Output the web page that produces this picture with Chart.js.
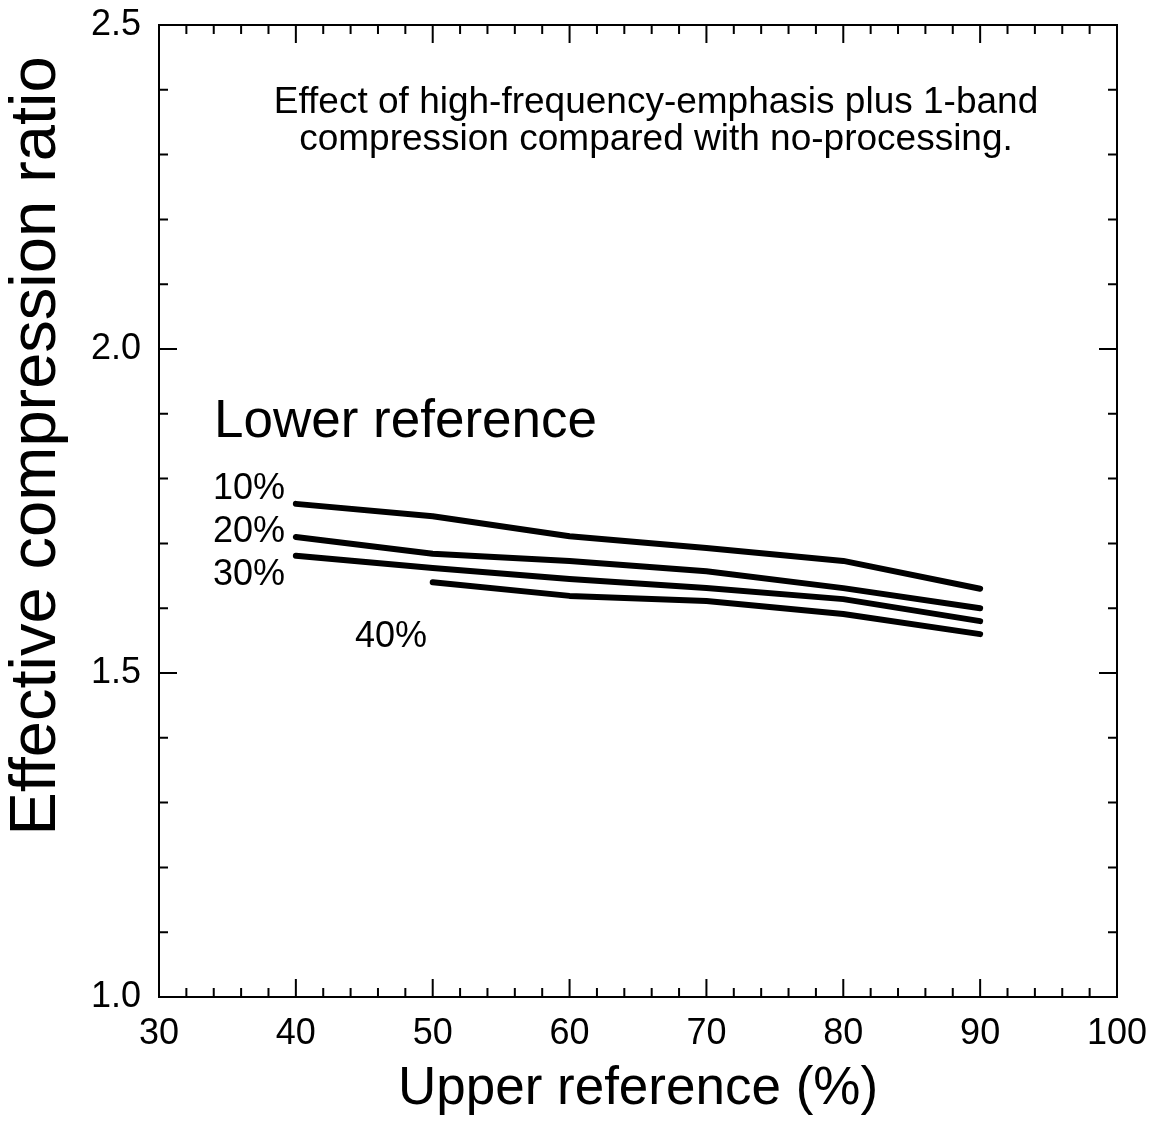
<!DOCTYPE html>
<html>
<head>
<meta charset="utf-8">
<script src="https://cdn.jsdelivr.net/npm/chart.js@4.4.1/dist/chart.umd.min.js"></script>
<style>
  html, body { margin: 0; padding: 0; background: #fff; }
  #wrap { width: 1162px; height: 1143px; }
</style>
</head>
<body>
<div id="wrap"><canvas id="chart"></canvas></div>
<script>
// values
const upperRef = [40, 50, 60, 70, 80, 90];
const upperRef40 = [50, 60, 70, 80, 90];
const lower10 = [1.761, 1.742, 1.711, 1.693, 1.673, 1.630];
const lower20 = [1.710, 1.684, 1.673, 1.657, 1.631, 1.600];
const lower30 = [1.681, 1.662, 1.645, 1.631, 1.614, 1.580];
const lower40 = [1.640, 1.619, 1.611, 1.591, 1.560];
const xTicks = [30, 40, 50, 60, 70, 80, 90, 100];
const yTicks = [1.0, 1.5, 2.0, 2.5];

const FONT = "'Liberation Sans', Arial, sans-serif";

function toPoints(xs, ys) {
  return xs.map((x, i) => ({ x: x, y: ys[i] }));
}

function lineSet(label, xs, ys) {
  return {
    label: label,
    data: toPoints(xs, ys),
    borderColor: "#000",
    borderWidth: 6,
    borderCapStyle: "round",
    borderJoinStyle: "round",
    pointRadius: 0,
    fill: false,
    tension: 0,
  };
}

// frame, inward ticks, y title and the notes inside the plot
const decorations = {
  id: "decorations",
  afterDraw(chart) {
    const ctx = chart.ctx;
    const a = chart.chartArea;
    const xs = chart.scales.x;
    const ys = chart.scales.y;
    ctx.save();
    ctx.strokeStyle = "#000";
    ctx.lineWidth = 2;
    ctx.strokeRect(a.left, a.top, a.right - a.left, a.bottom - a.top);

    ctx.beginPath();
    for (let v = 30; v <= 100; v += 2) {
      const px = xs.getPixelForValue(v);
      const len = v % 10 === 0 ? 18 : 9;
      ctx.moveTo(px, a.bottom);
      ctx.lineTo(px, a.bottom - len);
      ctx.moveTo(px, a.top);
      ctx.lineTo(px, a.top + len);
    }
    for (let i = 0; i <= 15; i++) {
      const v = 1 + i * 0.1;
      const py = ys.getPixelForValue(v);
      const len = i % 5 === 0 ? 18 : 9;
      ctx.moveTo(a.left, py);
      ctx.lineTo(a.left + len, py);
      ctx.moveTo(a.right, py);
      ctx.lineTo(a.right - len, py);
    }
    ctx.stroke();

    // y axis title
    ctx.fillStyle = "#000";
    ctx.save();
    ctx.translate(37, 446);
    ctx.rotate(-Math.PI / 2);
    ctx.font = "65px " + FONT;
    ctx.textAlign = "center";
    ctx.textBaseline = "middle";
    ctx.fillText("Effective compression ratio", 0, 0);
    ctx.restore();

    // notes
    ctx.textBaseline = "alphabetic";
    ctx.textAlign = "center";
    ctx.font = "37px " + FONT;
    ctx.fillText("Effect of high-frequency-emphasis plus 1-band", 656, 113);
    ctx.fillText("compression compared with no-processing.", 656, 150);

    ctx.textAlign = "left";
    ctx.font = "53px " + FONT;
    ctx.fillText("Lower reference", 214, 437);
    ctx.font = "36px " + FONT;
    ctx.fillText("10%", 213, 499);
    ctx.fillText("20%", 213, 542);
    ctx.fillText("30%", 213, 585);
    ctx.fillText("40%", 355, 647);
    ctx.restore();
  },
};

new Chart(document.getElementById("chart"), {
  type: "line",
  data: {
    datasets: [
      lineSet("10%", upperRef, lower10),
      lineSet("20%", upperRef, lower20),
      lineSet("30%", upperRef, lower30),
      lineSet("40%", upperRef40, lower40),
    ],
  },
  options: {
    responsive: true,
    maintainAspectRatio: false,
    animation: false,
    layout: { padding: { top: 25, right: 45, left: 0, bottom: 0 } },
    plugins: { legend: { display: false }, tooltip: { enabled: false } },
    scales: {
      x: {
        type: "linear",
        min: 30,
        max: 100,
        afterBuildTicks: (s) => { s.ticks = xTicks.map((v) => ({ value: v })); },
        afterFit: (s) => { s.height = 146; s.paddingLeft = 0; s.paddingRight = 0; },
        grid: { display: false, drawTicks: false },
        border: { display: false },
        ticks: { color: "#000", padding: 15, maxRotation: 0, font: { family: FONT, size: 36 } },
        title: {
          display: true,
          text: "Upper reference (%)",
          color: "#000",
          font: { family: FONT, size: 53 },
          padding: { top: 0, bottom: 22 },
        },
      },
      y: {
        min: 1.0,
        max: 2.5,
        afterBuildTicks: (s) => { s.ticks = yTicks.map((v) => ({ value: v })); },
        afterFit: (s) => { s.width = 159; s.paddingTop = 0; s.paddingBottom = 0; },
        grid: { display: false, drawTicks: false },
        border: { display: false },
        ticks: {
          color: "#000",
          padding: 18,
          font: { family: FONT, size: 36 },
          callback: (v) => Number(v).toFixed(1),
        },
      },
    },
  },
  plugins: [decorations],
});
</script>
</body>
</html>
